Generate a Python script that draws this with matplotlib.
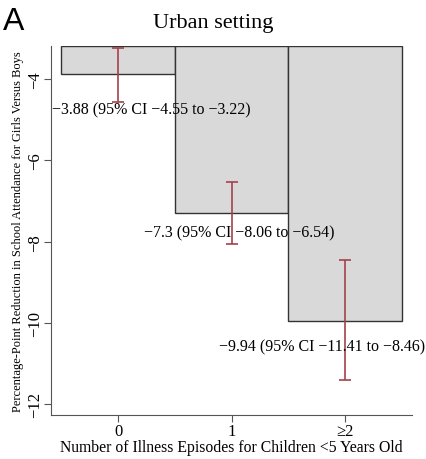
import matplotlib
matplotlib.use("Agg")
import matplotlib.pyplot as plt
import numpy as np

plt.rcParams['font.family'] = ['Liberation Serif', 'DejaVu Serif']

episodes = ["0", "1", "\u22652"]
estimates = [-3.88, -7.3, -9.94]
ci_low = [-4.55, -8.06, -11.41]
ci_high = [-3.22, -6.54, -8.46]
labels = ["\u22123.88 (95% CI \u22124.55 to \u22123.22)",
          "\u22127.3 (95% CI \u22128.06 to \u22126.54)",
          "\u22129.94 (95% CI \u221211.41 to \u22128.46)"]
label_x = [0.29, 1.07, 1.8]
label_y = [-4.74, -7.76, -10.57]

y_top, y_bottom = -3.18, -12.26

fig = plt.figure(figsize=(4.26, 4.60), dpi=100)
ax = fig.add_axes([0.12, 0.096, 0.847, 0.802])

x = np.arange(len(estimates))
est = np.array(estimates)
ax.bar(x, est - y_top, bottom=y_top, width=1.0, color="#d9d9d9",
       edgecolor="#333333", linewidth=1.0)
yerr = [est - np.array(ci_low), np.array(ci_high) - est]
ax.errorbar(x, est, yerr=yerr, fmt="none", ecolor="#a3424e",
            elinewidth=1.2, capsize=4.5, capthick=1.2)

for lx, ly, t in zip(label_x, label_y, labels):
    ax.text(lx, ly, t, ha="center", va="center", fontsize=11.5)

ax.set_xlim(-0.59, 2.59)
ax.set_ylim(y_bottom, y_top)
ax.set_xticks(x)
ax.set_xticklabels(episodes, fontsize=12)
ax.set_yticks([-4, -6, -8, -10, -12])
ax.set_yticklabels(["\u22124", "\u22126", "\u22128", "\u221210", "\u221212"],
                   fontsize=12, rotation=90, va="center")
ax.spines["top"].set_visible(False)
ax.spines["right"].set_visible(False)
ax.spines["left"].set_color("#555555")
ax.spines["bottom"].set_color("#555555")
ax.tick_params(length=5, color="#555555", pad=1)

fig.text(0.5, 1 - 28 / 460, "Urban setting", fontsize=16, ha="center", va="baseline")
ax.set_xlabel("Number of Illness Episodes for Children <5 Years Old", fontsize=11.3, labelpad=0)
ax.set_ylabel("Percentage-Point Reduction in School Attendance for Girls Versus Boys",
              fontsize=9, labelpad=2)

fig.text(0.006, 1 - 7 / 460, "A", fontsize=23, family="Liberation Sans", ha="left", va="top")

fig.savefig("out.png", dpi=100)
